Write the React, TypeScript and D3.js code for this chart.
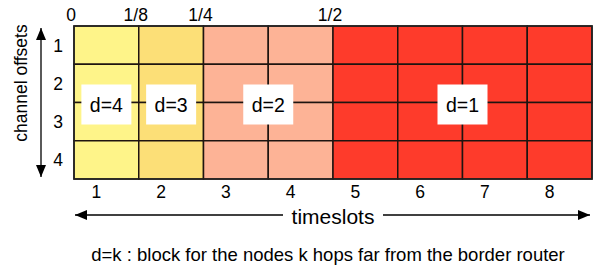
import { useEffect, useRef } from 'react';
import * as d3 from 'd3';

// timeslots along x, channel offsets along y
const timeslots = [1, 2, 3, 4, 5, 6, 7, 8];
const channelOffsets = [1, 2, 3, 4];
// hop distance d for the block each timeslot belongs to
const slotDepth = [4, 3, 2, 2, 1, 1, 1, 1];
const depthColors: Record<number, string> = {
  4: '#fef489',
  3: '#fcdf77',
  2: '#fdb396',
  1: '#fe3b2b',
};
// fraction marks along the top, at slot boundaries
const fractionLabels = ['0', '1/8', '1/4', '1/2'];
const fractionBounds = [0, 1, 2, 4];

const caption = 'd=k : block for the nodes k hops far from the border router';

export default function App() {
  const svgRef = useRef<SVGSVGElement>(null);

  useEffect(() => {
    if (!svgRef.current) return;
    const svg = d3.select(svgRef.current);
    svg.selectAll('*').remove();

    const width = 600;
    const height = 271;
    const left = 74;
    const right = 592;
    const top = 26;
    const bottom = 179;
    const font = '"Liberation Sans", Arial, Helvetica, sans-serif';
    const ink = '#000';

    const x = d3.scaleBand<number>().domain(timeslots).range([left, right]);
    const y = d3.scaleBand<number>().domain(channelOffsets).range([top, bottom]);
    const xEdge = d3.scaleLinear().domain([0, timeslots.length]).range([left, right]);

    const defs = svg.append('defs');
    defs.append('marker')
      .attr('id', 'head')
      .attr('viewBox', '0 0 12 10')
      .attr('refX', 12)
      .attr('refY', 5)
      .attr('markerWidth', 12)
      .attr('markerHeight', 10)
      .attr('markerUnits', 'userSpaceOnUse')
      .attr('orient', 'auto-start-reverse')
      .append('path')
      .attr('d', 'M0,0 L12,5 L0,10 Z')
      .attr('fill', '#000');

    const g = svg.append('g');

    // cells
    timeslots.forEach((t, i) => {
      channelOffsets.forEach((c) => {
        g.append('rect')
          .attr('x', x(t)!)
          .attr('y', y(c)!)
          .attr('width', x.bandwidth())
          .attr('height', y.bandwidth())
          .attr('fill', depthColors[slotDepth[i]])
          .attr('stroke', '#1e1410')
          .attr('stroke-width', 1.5);
      });
    });

    g.append('rect')
      .attr('x', left)
      .attr('y', top)
      .attr('width', right - left)
      .attr('height', bottom - top)
      .attr('fill', 'none')
      .attr('stroke', '#222')
      .attr('stroke-width', 1.5);

    // block labels, centred on each block's span
    const depths = Array.from(new Set(slotDepth));
    const midY = (y(2)! + y(3)! + y.bandwidth()) / 2 + 2;
    depths.forEach((d) => {
      const idx = slotDepth.map((v, i) => (v === d ? i : -1)).filter((i) => i >= 0);
      const cx = (xEdge(idx[0]) + xEdge(idx[idx.length - 1] + 1)) / 2;
      g.append('rect')
        .attr('x', cx - 25)
        .attr('y', midY - 20)
        .attr('width', 50)
        .attr('height', 40)
        .attr('fill', '#fff');
      g.append('text')
        .attr('x', cx)
        .attr('y', midY + 7)
        .attr('text-anchor', 'middle')
        .attr('font-family', font)
        .attr('font-size', '19.5px')
        .attr('fill', ink)
        .text(`d=${d}`);
    });

    // fraction labels on top
    fractionLabels.forEach((lab, i) => {
      g.append('text')
        .attr('x', xEdge(fractionBounds[i]) - 3)
        .attr('y', 20.5)
        .attr('text-anchor', 'middle')
        .attr('font-family', font)
        .attr('font-size', '17.5px')
        .attr('fill', ink)
        .text(lab);
    });

    // channel offset numbers
    channelOffsets.forEach((c) => {
      g.append('text')
        .attr('x', 58)
        .attr('y', y(c)! + y.bandwidth() / 2 + 6.5)
        .attr('text-anchor', 'middle')
        .attr('font-family', font)
        .attr('font-size', '17.5px')
        .attr('fill', ink)
        .text(c);
    });

    // timeslot numbers
    timeslots.forEach((t) => {
      g.append('text')
        .attr('x', x(t)! + x.bandwidth() / 2 - 10)
        .attr('y', 197.5)
        .attr('text-anchor', 'middle')
        .attr('font-family', font)
        .attr('font-size', '17.5px')
        .attr('fill', ink)
        .text(t);
    });

    // vertical double arrow + label
    g.append('line')
      .attr('x1', 41).attr('y1', 28)
      .attr('x2', 41).attr('y2', 177)
      .attr('stroke', '#000')
      .attr('stroke-width', 1.3)
      .attr('marker-start', 'url(#head)')
      .attr('marker-end', 'url(#head)');

    g.append('text')
      .attr('transform', 'translate(27, 83) rotate(-90)')
      .attr('text-anchor', 'middle')
      .attr('font-family', font)
      .attr('font-size', '17.5px')
      .attr('fill', ink)
      .text('channel offsets');

    // horizontal double arrow + label
    const arrowY = 215;
    g.append('line')
      .attr('x1', 75).attr('y1', arrowY)
      .attr('x2', 590).attr('y2', arrowY)
      .attr('stroke', '#000')
      .attr('stroke-width', 1.3)
      .attr('marker-start', 'url(#head)')
      .attr('marker-end', 'url(#head)');

    g.append('rect')
      .attr('x', 283)
      .attr('y', arrowY - 6)
      .attr('width', 100)
      .attr('height', 12)
      .attr('fill', '#fff');

    g.append('text')
      .attr('x', 333)
      .attr('y', 224)
      .attr('text-anchor', 'middle')
      .attr('font-family', font)
      .attr('font-size', '21px')
      .attr('fill', ink)
      .text('timeslots');

    // caption
    g.append('text')
      .attr('x', 328)
      .attr('y', 261)
      .attr('text-anchor', 'middle')
      .attr('font-family', font)
      .attr('font-size', '18.5px')
      .attr('fill', ink)
      .text(caption);

    svg.attr('width', width).attr('height', height);
  }, []);

  return (
    <svg
      ref={svgRef}
      width={600}
      height={271}
      style={{ position: 'absolute', left: 0, top: 0, background: '#fff' }}
    />
  );
}
